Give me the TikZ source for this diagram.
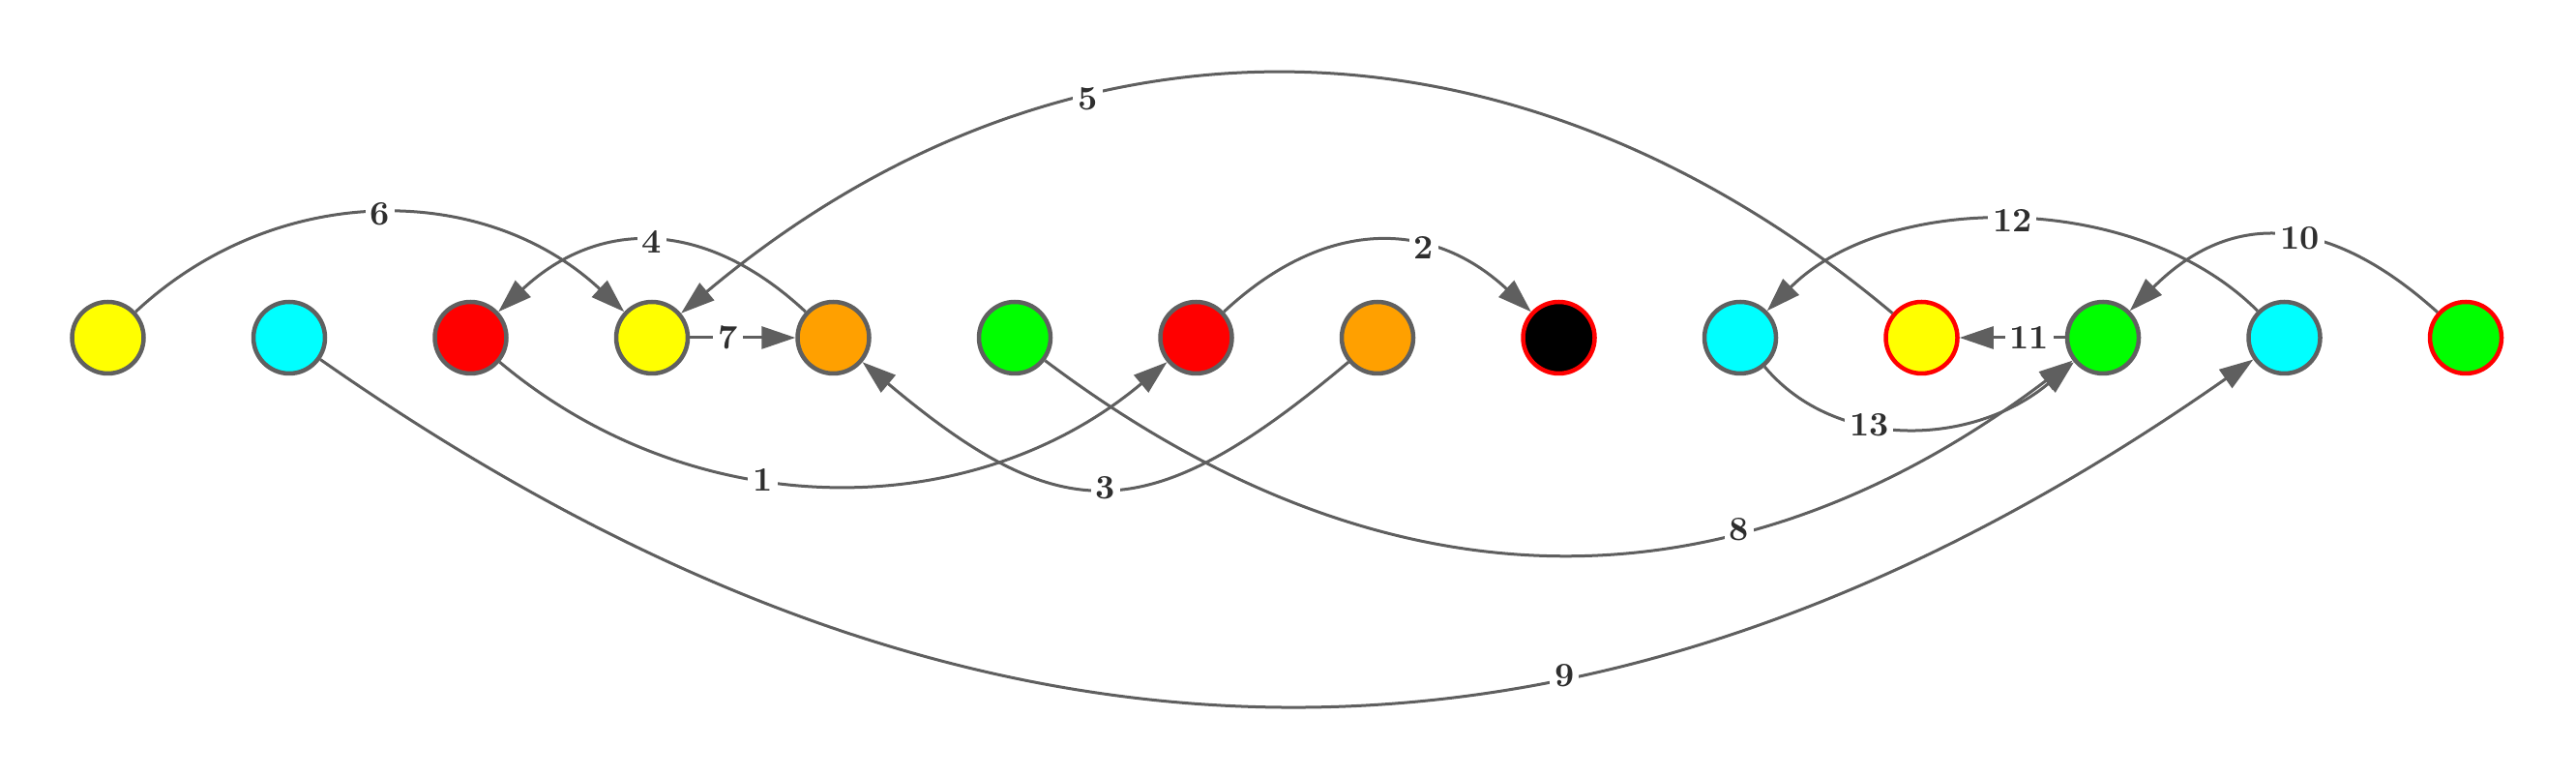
\documentclass[tikz,border=0pt]{standalone}
\usepackage{tikz}
\usetikzlibrary{arrows.meta}
\definecolor{vgray}{HTML}{606060}
\definecolor{egray}{HTML}{5F5F5F}
\definecolor{lgray}{HTML}{2E2E2E}
\definecolor{vyellow}{HTML}{FFFF00}
\definecolor{vcyan}{HTML}{00FFFF}
\definecolor{vred}{HTML}{FF0000}
\definecolor{vorange}{HTML}{FFA000}
\definecolor{vgreen}{HTML}{00FF00}
\tikzset{
VERTEX/.style={circle, draw=vgray, line width=0.45mm, minimum size=7.4mm, inner sep=0pt, fill=#1},
VERTEX/.default = white,
RIM/.style={draw=vred},
EDGE/.style={draw=egray, line width=0.3mm, -{Triangle[length=3.5mm,width=2.3mm]}},
LABEL/.style={fill=white, text=lgray, inner sep=0.5mm, font=\fontsize{10}{12}\selectfont\bfseries},
}
\begin{document}
\begin{tikzpicture} %colour graph
[x=1mm, y=1mm]
	\useasboundingbox (0,0) rectangle (266.3,80.3);
	\node[VERTEX=vyellow] (v0) at (11.15,45.4) {};
	\node[VERTEX=vcyan] (v1) at (29.90,45.4) {};
	\node[VERTEX=vred] (v2) at (48.65,45.4) {};
	\node[VERTEX=vyellow] (v3) at (67.40,45.4) {};
	\node[VERTEX=vorange] (v4) at (86.15,45.4) {};
	\node[VERTEX=vgreen] (v5) at (104.90,45.4) {};
	\node[VERTEX=vred] (v6) at (123.65,45.4) {};
	\node[VERTEX=vorange] (v7) at (142.40,45.4) {};
	\node[VERTEX=black,RIM] (v8) at (161.15,45.4) {};
	\node[VERTEX=vcyan] (v9) at (179.90,45.4) {};
	\node[VERTEX=vyellow,RIM] (v10) at (198.65,45.4) {};
	\node[VERTEX=vgreen] (v11) at (217.40,45.4) {};
	\node[VERTEX=vcyan] (v12) at (236.15,45.4) {};
	\node[VERTEX=vgreen,RIM] (v13) at (254.90,45.4) {};
	% above the row
	\path[EDGE] (v6) to[out=43,in=137,distance=14.2mm] node[LABEL,pos=0.65] {2} (v8);
	\path[EDGE] (v4) to[out=137,in=43,distance=14.2mm] node[LABEL] {4} (v2);
	\path[EDGE] (v10) to[out=140,in=40,distance=51.2mm] node[LABEL,pos=0.66] {5} (v3);
	\path[EDGE] (v0) to[out=43,in=137,distance=19.8mm] node[LABEL] {6} (v3);
	\path[EDGE] (v13) to[out=138,in=45,distance=15mm] node[LABEL,pos=0.44] {10} (v11);
	\path[EDGE] (v12) to[out=135,in=45,distance=17.6mm] node[LABEL] {12} (v9);
	% in the row
	\path[EDGE] (v3) -- node[LABEL,pos=0.36] {7} (v4);
	\path[EDGE] (v11) -- node[LABEL,pos=0.34] {11} (v10);
	% below the row
	\path[EDGE] (v2) to[out=-40,in=-140,distance=26.3mm] node[LABEL,pos=0.4] {1} (v6);
	\path[EDGE] (v7) to[out=-140,in=-40,distance=27mm] node[LABEL] {3} (v4);
	\path[EDGE] (v5) to[out=-37,in=-143,distance=44.2mm] node[LABEL,pos=0.675] {8} (v11);
	\path[EDGE] (v1) to[out=-35,in=-145,distance=83mm] node[LABEL,pos=0.645] {9} (v12);
	\path[EDGE] (v9) to[out=-50,in=-140,out distance=11.5mm,in distance=13.5mm] node[LABEL,pos=0.38] {13} (v11);
\end{tikzpicture}
\end{document}
